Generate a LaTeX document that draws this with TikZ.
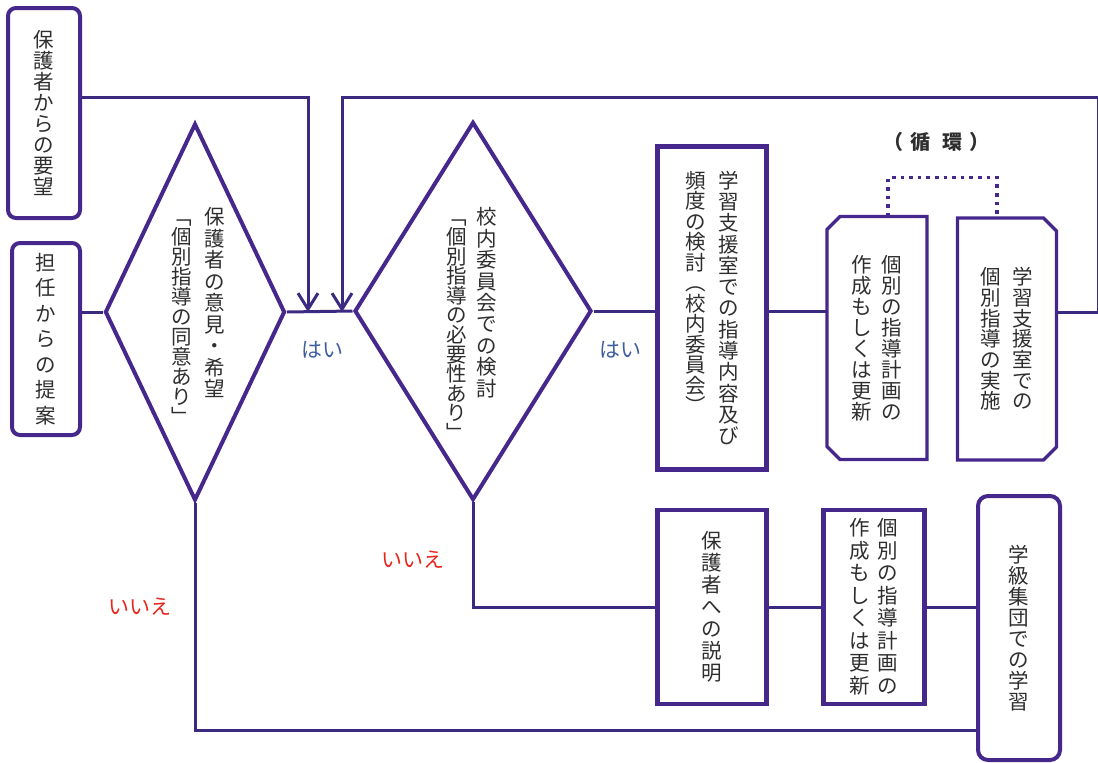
\documentclass[tikz,border=0pt]{standalone}
\usepackage{fontspec}
\setmainfont{Noto Sans CJK JP}
\usepackage{tikz}
\usetikzlibrary{arrows.meta,positioning,shapes.geometric}
\definecolor{cPurpD}{HTML}{46288C}
\definecolor{cPurpL}{HTML}{3B2A80}
\definecolor{cTextT}{HTML}{2E2E2E}
\definecolor{cBlueT}{HTML}{3F5E9E}
\definecolor{cRedT}{HTML}{E8251C}
\makeatletter
\newcommand\tate[2][21]{\vtop{\baselineskip=#1pt\lineskiplimit=-\maxdimen\lineskip=0pt
  \@tfor\tate@c:=#2\do{\hbox to 21pt{\hss\tate@c\hss}}}}
\makeatother
\newcommand\tatefont{\fontsize{20.5}{22}\selectfont}
\tikzset{
  flow/.style    = {cPurpL, line width=3pt},
  arr/.style     = {flow, -{Straight Barb[length=16pt,width=20pt]}},
  rbox/.style    = {draw=cPurpD, line width=4pt, rounded corners=8pt, inner sep=0pt,
                    text=cTextT, font=\tatefont},
  sbox/.style    = {rbox, sharp corners, line width=4.8pt},
  cbox/.style    = {rbox, draw=none, outer sep=0pt},
  chamf/.style   = {draw=cPurpD, line width=3.4pt},
  ask/.style     = {diamond, draw=cPurpD, line width=4pt, inner sep=0pt},
  asktxt/.style  = {inner sep=0pt, text=cTextT, font=\tatefont},
  cyc/.style     = {cPurpD, line width=3.6pt, dash pattern=on 3.6pt off 5pt},
  yeslbl/.style  = {text=cBlueT, font=\fontsize{21}{22}\selectfont},
  nolbl/.style   = {text=cRedT, font=\fontsize{21}{22}\selectfont},
}
\begin{document}
\begin{tikzpicture}[x=1pt,y=-1pt]
  \useasboundingbox (0,0) rectangle (1098,763);
  % starting points
  \node[rbox, minimum width=72pt, minimum height=210pt] (req) at (44,113) {\tate{保護者からの要望}};
  \node[rbox, minimum width=68pt, minimum height=192pt] (prop) at (46,339) {\tate[25.5]{担任からの提案}};
  % decisions
  \node[ask, minimum width=180pt, minimum height=377pt] (dia1) at (195,312) {};
  \node[asktxt] (dia1t) at (198,316) {\tate[20]{﹁個別指導の同意あり﹂}\hspace{12pt}\tate[21.5]{保護者の意見・希望}};
  \node[ask, minimum width=237pt, minimum height=378pt] (dia2) at (473,311) {};
  \node[asktxt] (dia2t) at (472,324) {\tate[19.6]{﹁個別指導の必要性あり﹂}\hspace{9pt}\tate[21.4]{校内委員会での検討}};
  % upper row
  \node[sbox, minimum width=109pt, minimum height=323pt] (study) at (712,308)
    {\tate[20.5]{頻度の検討︵校内委員会︶}\hspace{12pt}\tate[21.3]{学習支援室での指導内容及び}};
  \node[cbox, minimum width=100pt, minimum height=243pt] (plan1) at (877,338)
    {\tate{作成もしくは更新}\hspace{9pt}\tate{個別の指導計画の}};
  \node[cbox, minimum width=99pt, minimum height=242pt] (act) at (1007,339)
    {\tate[20.7]{個別指導の実施}\hspace{11pt}\tate[20.7]{学習支援室での}};
  \draw[chamf] ([xshift=13pt]plan1.north west) -- (plan1.north east) -- (plan1.south east)
    -- ([xshift=13pt]plan1.south west) -- ([yshift=13pt]plan1.south west)
    -- ([yshift=-13pt]plan1.north west) -- cycle;
  \draw[chamf] (act.north west) -- ([xshift=-13pt]act.north east) -- ([yshift=-13pt]act.north east)
    -- ([yshift=13pt]act.south east) -- ([xshift=-13pt]act.south east) -- (act.south west) -- cycle;
  % lower row
  \node[sbox, minimum width=109pt, minimum height=194pt] (explain) at (712,607) {\tate[22]{保護者への説明}};
  \node[sbox, minimum width=101pt, minimum height=194pt] (plan2) at (874,607)
    {\tate[22.5]{作成もしくは更新}\hspace{7pt}\tate[22.5]{個別の指導計画の}};
  \node[rbox, rounded corners=10pt, minimum width=82pt, minimum height=264pt] (klass) at (1019,628)
    {\tate{学級集団での学習}};
  % connectors
  \coordinate (j1) at (308,312);
  \coordinate (j2) at (342,312);
  \coordinate (edgeT) at (1098,97);
  \coordinate (edgeB) at (1098,312);
  \draw[flow] (prop.east |- dia1.west) -- (dia1.west);
  \draw[flow] (dia1.east) -- (dia2.west);
  \draw[arr] (req.east |- edgeT) -| (j1);
  \draw[arr] (edgeT) -| (j2);
  \draw[flow] (dia2.east) -- (study.west |- dia2.east);
  \draw[flow] (study.east |- dia2.east) -- (plan1.west |- dia2.east);
  \draw[flow] (act.east |- edgeB) -- (edgeB) -- (edgeT);
  \draw[cyc] ([xshift=11pt]plan1.north) -- ++(0,-39) -| ([xshift=-10pt]act.north);
  \draw[flow] (dia2.south) |- (explain.west);
  \draw[flow] (explain.east) -- (plan2.west);
  \draw[flow] (plan2.east) -- (klass.west |- plan2.east);
  \draw[flow] (dia1.south) |- (klass.west |- 0,730);
  % labels
  \node[yeslbl] (yes1) at (322,350) {はい};
  \node[yeslbl] (yes2) at (620,350) {はい};
  \node[nolbl] (no1) at (140,607) {いいえ};
  \node[nolbl] (no2) at (413,560) {いいえ};
  \node[text=cTextT, font=\fontsize{20}{22}\selectfont\bfseries] (cycle) at (936,142)
    {（\hspace{7pt}循\hspace{12pt}環\hspace{7pt}）};
\end{tikzpicture}
\end{document}
